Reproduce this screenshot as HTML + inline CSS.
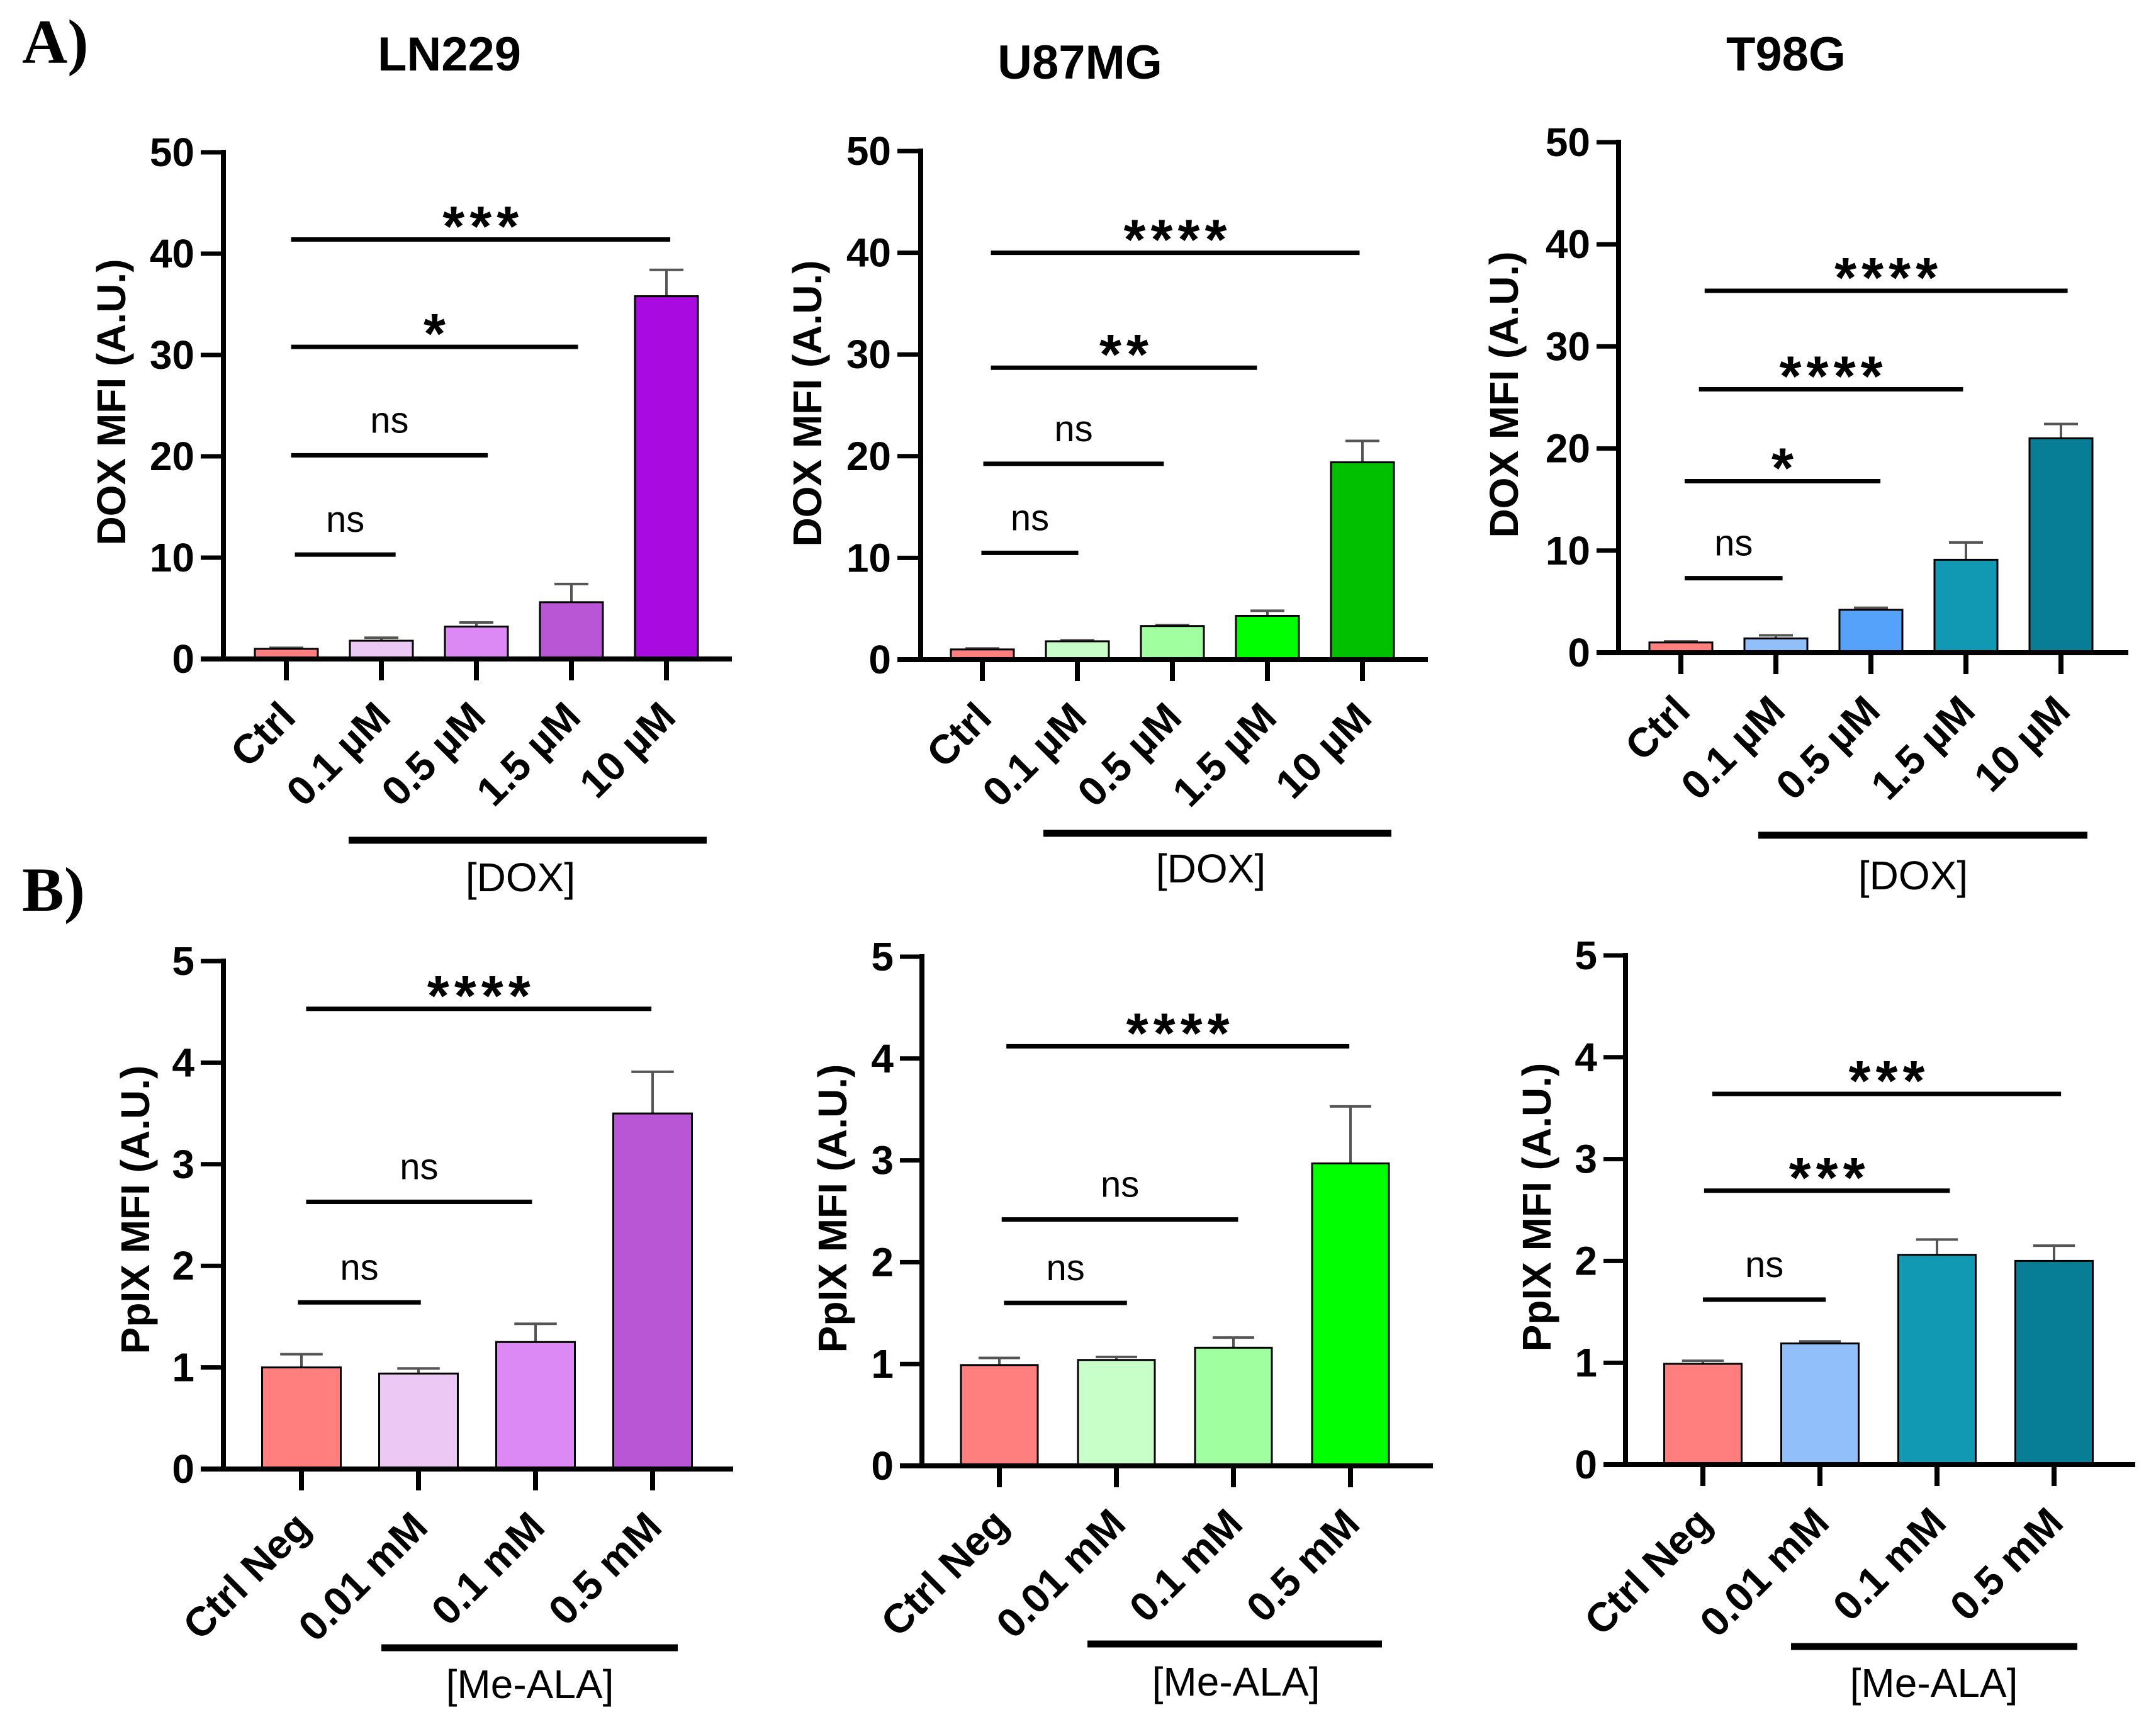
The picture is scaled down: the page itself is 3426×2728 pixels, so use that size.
<!DOCTYPE html>
<html><head><meta charset="utf-8"><style>
html,body{margin:0;padding:0;background:#fff;}
svg{display:block;}
text{font-family:"Liberation Sans",Arial,sans-serif;}
</style></head><body>
<svg id="fig" width="3426" height="2728" viewBox="0 0 3426 2728" xmlns="http://www.w3.org/2000/svg">
<rect width="3426" height="2728" fill="#fff"/>
<text x="35" y="100" style="font-family:'Liberation Serif',serif" font-weight="bold" font-size="100">A)</text>
<text x="35" y="1447" style="font-family:'Liberation Serif',serif" font-weight="bold" font-size="100">B)</text>
<text x="714" y="112" text-anchor="middle" font-weight="bold" font-size="76">LN229</text>
<text x="1716" y="125" text-anchor="middle" font-weight="bold" font-size="76">U87MG</text>
<text x="2838" y="112" text-anchor="middle" font-weight="bold" font-size="76">T98G</text>
</svg>
<script>
// ---- data ----
const catsDox = ['Ctrl','0.1 µM','0.5 µM','1.5 µM','10 µM'];
const catsAla = ['Ctrl Neg','0.01 mM','0.1 mM','0.5 mM'];
const doxTicks = [0,10,20,30,40,50];
const alaTicks = [0,1,2,3,4,5];

const a1Means = [1.0, 1.8, 3.2, 5.6, 35.8];
const a1Sd    = [0.1, 0.3, 0.4, 1.8, 2.6];
const a2Means = [1.0, 1.8, 3.3, 4.3, 19.4];
const a2Sd    = [0.1, 0.1, 0.1, 0.5, 2.1];
const a3Means = [1.0, 1.4, 4.2, 9.1, 21.0];
const a3Sd    = [0.1, 0.3, 0.2, 1.7, 1.4];
const b1Means = [1.0, 0.94, 1.25, 3.5];
const b1Sd    = [0.13, 0.05, 0.18, 0.41];
const b2Means = [0.99, 1.04, 1.16, 2.97];
const b2Sd    = [0.07, 0.03, 0.10, 0.56];
const b3Means = [0.99, 1.19, 2.06, 2.0];
const b3Sd    = [0.03, 0.02, 0.15, 0.15];

const a1SigY = [41.4, 30.8, 20.1, 10.3];
const a1SigLabels = ['***','*','ns','ns'];
const a2SigY = [40.0, 28.7, 19.25, 10.5];
const a2SigLabels = ['****','**','ns','ns'];
const a3SigY = [35.45, 25.8, 16.8, 7.3];
const a3SigLabels = ['****','****','*','ns'];
const b1SigY = [4.53, 2.63, 1.64];
const b1SigLabels = ['****','ns','ns'];
const b2SigY = [4.12, 2.42, 1.60];
const b2SigLabels = ['****','ns','ns'];
const b3SigY = [3.64, 2.69, 1.62];
const b3SigLabels = ['***','***','ns'];

const colA1 = ['#ff7f7f','#ecc8f5','#dc88f5','#b856d6','#a90ae0'];
const colA2 = ['#ff7f7f','#c8fcc8','#a0ff9e','#00ff00','#00c000'];
const colA3 = ['#ff7f7f','#90bff9','#55a2fa','#1199b4','#077e96'];
const colB1 = ['#ff7f7f','#ecc8f5','#dc88f5','#b856d6'];
const colB2 = ['#ff7f7f','#c8ffc8','#a0ff9e','#00ff00'];
const colB3 = ['#ff7f7f','#90bff9','#1199b4','#077e96'];

const NS='http://www.w3.org/2000/svg';
const svg=document.getElementById('fig');
function mk(tag,attrs,parent){const e=document.createElementNS(NS,tag);for(const k in attrs)e.setAttribute(k,attrs[k]);(parent||svg).appendChild(e);return e;}

function panel(id,g,cats,means,sd,cols,ticks,sigY,sigLabels,sigX,ytitle,group){
  const G=mk('g',{});
  
  
  const ymax=ticks[ticks.length-1];
  const yS=v=>g.y0-(v/ymax)*(g.y0-g.yTop);
  const xS=i=>g.tick0+i*g.sp;
  means.forEach((m,i)=>{
    const top=yS(m), x=xS(i);
    const eb=mk('line',{x1:x,x2:x,y1:top,y2:yS(m+sd[i]),stroke:'#555','stroke-width':4},G);
    
    
    const cap=mk('line',{x1:x-g.barW*0.27,x2:x+g.barW*0.27,y1:yS(m+sd[i]),y2:yS(m+sd[i]),stroke:'#555','stroke-width':4},G);
    
    
    const r=mk('rect',{x:x-g.barW/2,y:top,width:g.barW,height:g.y0-top,fill:cols[i],stroke:'#000','stroke-width':3},G);
    
    
  });
  const ya=mk('line',{x1:g.axisX,x2:g.axisX,y1:g.yTop-4,y2:g.y0+4,stroke:'#000','stroke-width':8},G);
  
  
  const xa=mk('line',{x1:g.start,x2:g.end,y1:g.y0,y2:g.y0,stroke:'#000','stroke-width':8},G);
  
  
  ticks.forEach(t=>{
    const y=yS(t);
    mk('line',{x1:g.start,x2:g.axisX,y1:y,y2:y,stroke:'#000','stroke-width':7},G);
    const tl=mk('text',{x:g.start-10,y:y,'text-anchor':'end','dominant-baseline':'central','font-weight':'bold','font-size':64},G);
    tl.textContent=t;
    
    
  });
  cats.forEach((c,i)=>{
    const x=xS(i);
    mk('line',{x1:x,x2:x,y1:g.y0,y2:g.y0+34,stroke:'#000','stroke-width':8},G);
    const ex=x+18, ey=g.y0+96;
    const tl=mk('text',{x:ex,y:ey,'text-anchor':'end','font-weight':'bold','font-size':65,transform:'rotate(-45 '+ex+' '+ey+')'},G);
    tl.textContent=c;
    
    
  });
  sigY.forEach((v,k)=>{
    const y=yS(v), x1=xS(sigX[k][0]), x2=xS(sigX[k][1]);
    const ln=mk('line',{x1:x1,x2:x2,y1:y,y2:y,stroke:'#000','stroke-width':7},G);
    
    
    const lab=sigLabels[k];
    let t;
    if(lab==='ns'){
      t=mk('text',{x:(x1+x2)/2,y:y-36,'text-anchor':'middle','font-size':58},G);
    }else{
      t=mk('text',{x:(x1+x2)/2+4,y:y+10,'text-anchor':'middle','font-size':90,'font-weight':'bold','letter-spacing':8},G);
    }
    t.textContent=lab;
    
    
  });
  const yt=mk('text',{x:g.ytx,y:g.yty,'text-anchor':'middle','dominant-baseline':'central','font-weight':'bold','font-size':64,transform:'rotate(-90 '+g.ytx+' '+g.yty+')'},G);
  yt.textContent=ytitle;
  
  
  const gl=mk('line',{x1:group.x1,x2:group.x2,y1:group.y,y2:group.y,stroke:'#000','stroke-width':11},G);
  
  
  const gt=mk('text',{x:group.tx,y:group.ty,'text-anchor':'middle','dominant-baseline':'central','font-size':64},G);
  gt.textContent=group.label;
  
  
}

panel('ln229-dox',{axisX:355,yTop:242,y0:1047,start:319,end:1163,tick0:455,sp:151,barW:100,ytx:177,yty:639},
  catsDox,a1Means,a1Sd,colA1,doxTicks,a1SigY,a1SigLabels,[[0.05,4.04],[0.05,3.07],[0.05,2.12],[0.09,1.15]],
  'DOX MFI (A.U.)',{x1:554,x2:1123,y:1335,tx:827,ty:1394,label:'[DOX]'});
panel('u87mg-dox',{axisX:1463,yTop:240,y0:1048,start:1426,end:2269,tick0:1561,sp:151,barW:100,ytx:1283,yty:641},
  catsDox,a2Means,a2Sd,colA2,doxTicks,a2SigY,a2SigLabels,[[0.09,3.97],[0.09,2.89],[0.01,1.91],[-0.01,1.01]],
  'DOX MFI (A.U.)',{x1:1658,x2:2211,y:1324,tx:1924,ty:1380,label:'[DOX]'});
panel('t98g-dox',{axisX:2572,yTop:226,y0:1037,start:2537,end:3382,tick0:2671,sp:151,barW:100,ytx:2390,yty:627},
  catsDox,a3Means,a3Sd,colA3,doxTicks,a3SigY,a3SigLabels,[[0.25,4.07],[0.19,2.97],[0.04,2.10],[0.04,1.07]],
  'DOX MFI (A.U.)',{x1:2794,x2:3317,y:1327,tx:3040,ty:1391,label:'[DOX]'});
panel('ln229-ppix',{axisX:355,yTop:1527,y0:2334,start:319,end:1165,tick0:479,sp:186,barW:125,ytx:215,yty:1922},
  catsAla,b1Means,b1Sd,colB1,alaTicks,b1SigY,b1SigLabels,[[0.04,2.99],[0.04,1.97],[-0.03,1.02]],
  'PpIX MFI (A.U.)',{x1:606,x2:1077,y:2618,tx:842,ty:2676,label:'[Me-ALA]'});
panel('u87mg-ppix',{axisX:1465,yTop:1520,y0:2329,start:1430,end:2277,tick0:1588,sp:186,barW:122,ytx:1323,yty:1920},
  catsAla,b2Means,b2Sd,colB2,alaTicks,b2SigY,b2SigLabels,[[0.06,2.99],[0.02,2.04],[0.04,1.09]],
  'PpIX MFI (A.U.)',{x1:1728,x2:2196,y:2612,tx:1964,ty:2672,label:'[Me-ALA]'});
panel('t98g-ppix',{axisX:2583,yTop:1518,y0:2327,start:2548,end:3393,tick0:2706,sp:186,barW:123,ytx:2442,yty:1918},
  catsAla,b3Means,b3Sd,colB3,alaTicks,b3SigY,b3SigLabels,[[0.08,3.06],[0.01,2.11],[0,1.05]],
  'PpIX MFI (A.U.)',{x1:2846,x2:3301,y:2616,tx:3073,ty:2674,label:'[Me-ALA]'});
</script>
</body></html>
